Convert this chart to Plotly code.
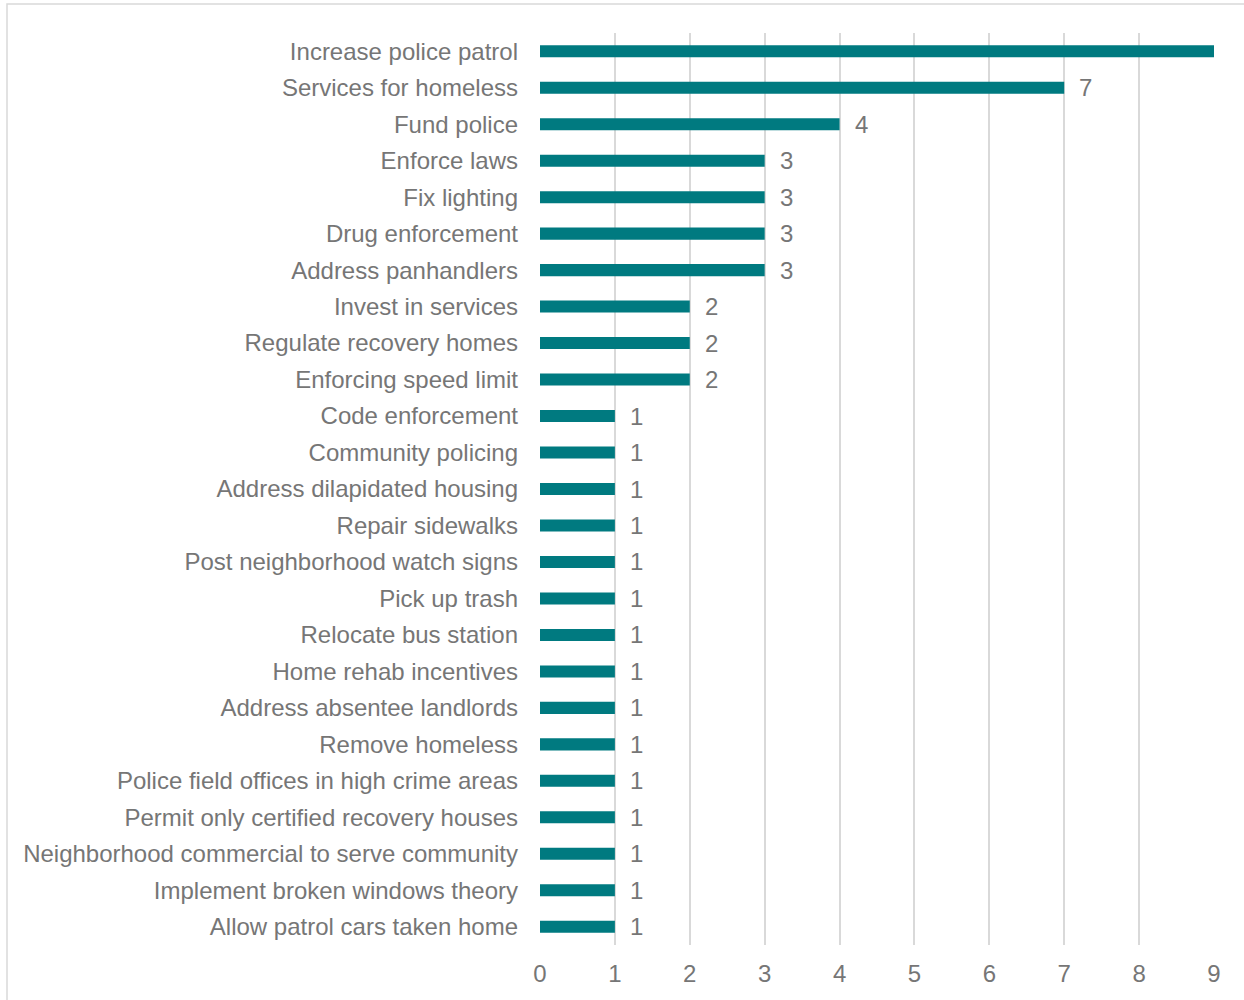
import plotly.graph_objects as go

categories = [
    "Increase police patrol", "Services for homeless", "Fund police", "Enforce laws",
    "Fix lighting", "Drug enforcement", "Address panhandlers", "Invest in services",
    "Regulate recovery homes", "Enforcing speed limit", "Code enforcement",
    "Community policing", "Address dilapidated housing", "Repair sidewalks",
    "Post neighborhood watch signs", "Pick up trash", "Relocate bus station",
    "Home rehab incentives", "Address absentee landlords", "Remove homeless",
    "Police field offices in high crime areas", "Permit only certified recovery houses",
    "Neighborhood commercial to serve community", "Implement broken windows theory",
    "Allow patrol cars taken home",
]
values = [9, 7, 4, 3, 3, 3, 3, 2, 2, 2, 1, 1, 1, 1, 1, 1, 1, 1, 1, 1, 1, 1, 1, 1, 1]
x_ticks = [0, 1, 2, 3, 4, 5, 6, 7, 8, 9]

XMAX = 9
BAR = "#007A80"
TXT = "#767676"
FONT = "Liberation Sans, Arial, sans-serif"
FS = 24

L, R, T, B = 540, 30, 33, 55
PW, PH = 1244 - L - R, 1000 - T - B

fig = go.Figure()
fig.add_trace(go.Bar(
    y=categories, x=values, orientation="h",
    marker=dict(color=BAR, line=dict(width=0)),
    width=0.33, hoverinfo="x+y",
))

for c, v in zip(categories, values):
    if v < XMAX:
        fig.add_annotation(x=v, y=c, text=str(v), showarrow=False,
                           xanchor="left", xshift=13,
                           font=dict(family=FONT, size=FS, color=TXT))

fig.update_layout(
    width=1244, height=1000,
    margin=dict(l=L, r=R, t=T, b=B),
    paper_bgcolor="white", plot_bgcolor="white",
    showlegend=False,
    font=dict(family=FONT, size=FS, color=TXT),
    xaxis=dict(range=[0, XMAX], tickvals=x_ticks, showgrid=True,
               gridcolor="#D9D9D9", gridwidth=1.5, zeroline=False,
               showline=False, ticks="", ticklabelstandoff=12,
               tickfont=dict(family=FONT, size=FS, color=TXT)),
    yaxis=dict(categoryorder="array", categoryarray=categories[::-1],
               showgrid=False, showline=False, ticks="", ticklabelstandoff=21,
               tickfont=dict(family=FONT, size=FS, color=TXT)),
    shapes=[dict(type="rect", xref="paper", yref="paper",
                 x0=(7 - L) / PW, x1=1 + (R + 20) / PW,
                 y0=-(B + 20) / PH, y1=1 + (T - 4) / PH,
                 line=dict(color="#D9D9D9", width=1.5), fillcolor="rgba(0,0,0,0)",
                 layer="below")],
)

fig.write_html("out.html", config={"displayModeBar": False},
               post_script="document.body.style.margin='0';document.body.style.overflow='hidden';")
